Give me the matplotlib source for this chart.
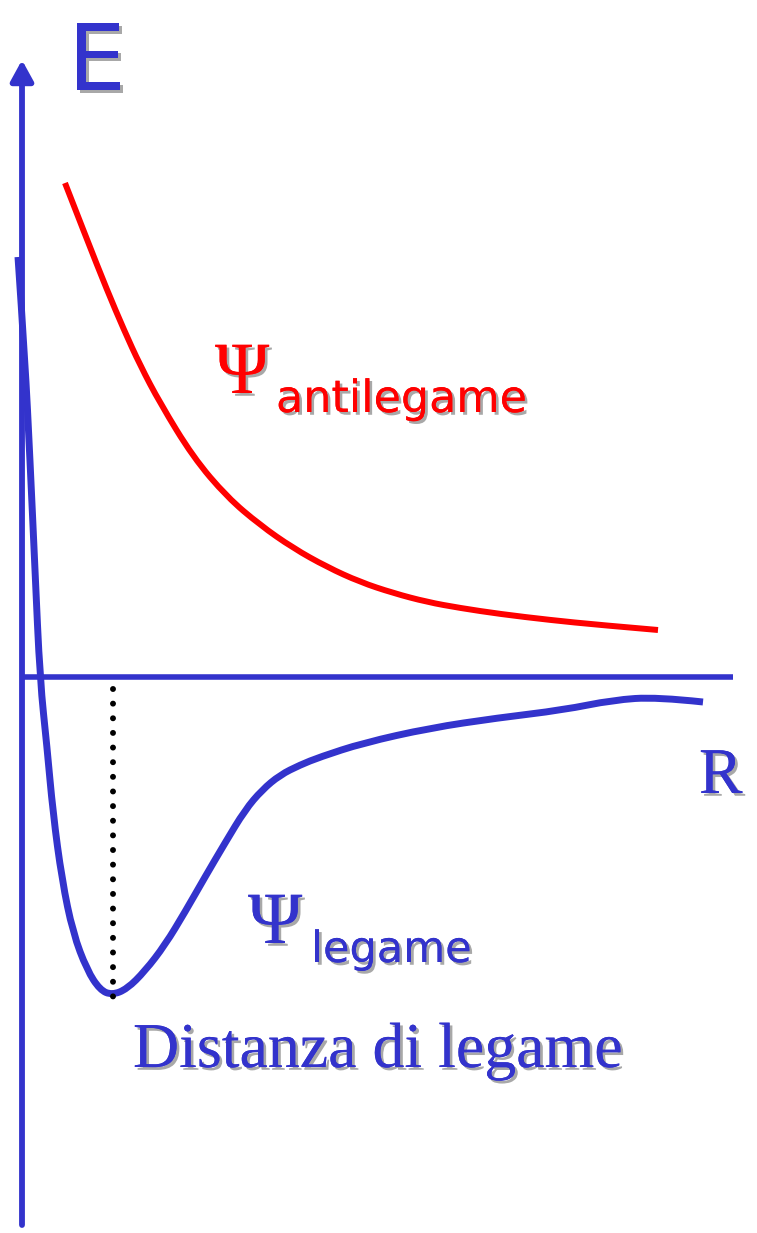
import matplotlib
matplotlib.use("Agg")
import matplotlib.pyplot as plt
import matplotlib.patheffects as pe
from matplotlib.path import Path
from matplotlib.patches import PathPatch

# ---- data (R, E) in arbitrary units; origin at the axes crossing ----
bond_R = [-0.04, 0.03, 0.08, 0.13, 0.18, 0.25, 0.31, 0.40, 0.51, 0.65, 0.78, 0.90,
          1.05, 1.23, 1.43, 1.63, 1.83, 2.03, 2.23, 2.40, 2.58, 2.78, 2.98, 3.41,
          4.08, 4.75, 5.41, 5.91, 6.35, 6.81]
bond_E = [4.20, 3.17, 2.17, 1.07, -0.03, -0.70, -1.36, -2.03, -2.56, -2.93, -3.13, -3.18,
          -3.12, -2.94, -2.68, -2.35, -2.00, -1.66, -1.33, -1.13, -0.98, -0.88, -0.80, -0.66,
          -0.51, -0.41, -0.33, -0.23, -0.20, -0.25]

anti_R = [0.43, 0.64, 0.85, 1.02, 1.18, 1.38, 1.71, 2.05, 2.38, 2.71, 3.05, 3.38,
          3.71, 4.05, 4.38, 4.78, 5.28, 5.78, 6.36]
anti_E = [4.94, 4.40, 3.87, 3.47, 3.12, 2.74, 2.20, 1.80, 1.52, 1.29, 1.10, 0.95,
          0.84, 0.75, 0.69, 0.63, 0.57, 0.52, 0.47]

R_bond = 0.91          # bond length (position of minimum)
E_min = -3.20
R_axis_end = 7.11
E_axis_top = 6.17
E_axis_bottom = -5.48

BLUE = "#3333CC"
RED = "#FF0000"

# ---- figure ----
W, H = 757, 1233
fig = plt.figure(figsize=(W / 100, H / 100), dpi=100)
ax = fig.add_axes([0, 0, 1, 1])
# pixel (x,y) -> data mapping: R=(x-22)/100, E=(677-y)/100
ax.set_xlim(-0.22, (W - 22) / 100)
ax.set_ylim(-(H - 677) / 100, 677 / 100)
ax.axis("off")


def P(x, y):
    return (x - 22) / 100, (677 - y) / 100


def smooth_curve(xs, ys, **kw):
    """Draw the read points as a smooth quadratic-spline path."""
    pts = list(zip(xs, ys))
    verts = [pts[0]]
    codes = [Path.MOVETO]
    for i in range(1, len(pts) - 1):
        mid = ((pts[i][0] + pts[i + 1][0]) / 2, (pts[i][1] + pts[i + 1][1]) / 2)
        if i == len(pts) - 2:
            mid = pts[-1]
        verts += [pts[i], mid]
        codes += [Path.CURVE3, Path.CURVE3]
    patch = PathPatch(Path(verts, codes), fill=False, transform=ax.transData,
                      capstyle="butt", joinstyle="round", **kw)
    ax.add_patch(patch)


shadow = [pe.withSimplePatchShadow(offset=(2, -2), shadow_rgbFace="#A8A8A8", alpha=1.0),
          pe.Normal()]

# axes
ax.plot([-0.02, R_axis_end], [0, 0], color=BLUE, lw=4.0, solid_capstyle="butt")
ax.annotate("", xy=(0, E_axis_top), xytext=(0, E_axis_bottom),
            arrowprops=dict(arrowstyle="-|>,head_length=0.62,head_width=0.34",
                            color=BLUE, lw=4.2, mutation_scale=20,
                            shrinkA=0, shrinkB=0))

# curves
smooth_curve(anti_R, anti_E, edgecolor=RED, lw=4.3)
smooth_curve(bond_R, bond_E, edgecolor=BLUE, lw=5.0)

# dotted line at the bond distance
ax.plot([R_bond, R_bond], [-0.12, E_min], color="black", lw=4.3,
        linestyle=(0, (0.001, 2.45)), dash_capstyle="round")

# texts
ax.text(*P(97, 90), "E", color=BLUE, fontsize=66, family="DejaVu Sans",
        ha="center", va="baseline", path_effects=shadow)
ax.text(*P(215, 393), "Ψ", color=RED, fontsize=53, family="Liberation Serif",
        ha="left", va="baseline", path_effects=shadow)
ax.text(*P(276, 412), "antilegame", color=RED, fontsize=32, family="DejaVu Sans",
        ha="left", va="baseline", path_effects=shadow)
ax.text(*P(248, 943), "Ψ", color=BLUE, fontsize=53, family="Liberation Serif",
        ha="left", va="baseline", path_effects=shadow)
ax.text(*P(311, 962), "legame", color=BLUE, fontsize=31, family="DejaVu Sans",
        ha="left", va="baseline", path_effects=shadow)
ax.text(*P(133, 1067), "Distanza di legame", color=BLUE, fontsize=46,
        family="Liberation Serif", ha="left", va="baseline", path_effects=shadow)
ax.text(*P(699, 793), "R", color=BLUE, fontsize=47, family="Liberation Serif",
        ha="left", va="baseline", path_effects=shadow)

fig.savefig("out.png", dpi=100, facecolor="white")
